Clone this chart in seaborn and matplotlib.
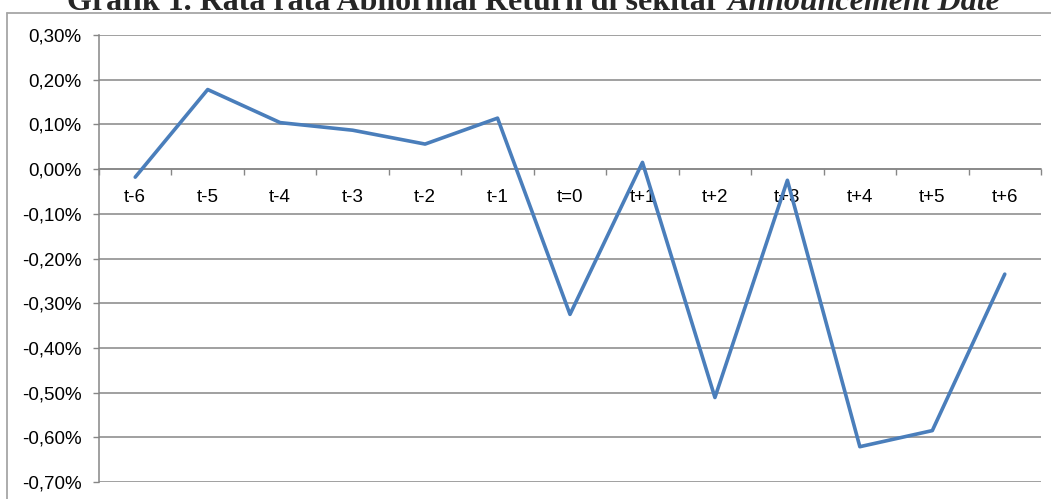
import numpy as np
import pandas as pd
import matplotlib
matplotlib.use("Agg")
import matplotlib.pyplot as plt
import seaborn as sns
from matplotlib.lines import Line2D
from matplotlib.ticker import FixedLocator, FuncFormatter

# Data (average abnormal return, in percent)
periode = ["t-6", "t-5", "t-4", "t-3", "t-2", "t-1", "t=0",
           "t+1", "t+2", "t+3", "t+4", "t+5", "t+6"]
abnormal_return = [-0.018, 0.178, 0.104, 0.087, 0.056, 0.114, -0.325,
                   0.015, -0.511, -0.025, -0.621, -0.585, -0.235]
y_ticks = [-0.7, -0.6, -0.5, -0.4, -0.3, -0.2, -0.1, 0.0, 0.1, 0.2, 0.3]

title_main = "Grafik 1. Rata rata Abnormal Return di sekitar "
title_italic = "Announcement Date"

df = pd.DataFrame({"periode": periode, "ar": abnormal_return})
df["pos"] = np.arange(len(df))

sns.set_style("white")
plt.rcParams["font.family"] = ["Liberation Sans", "DejaVu Sans"]

W, H = 1051, 499
fig = plt.figure(figsize=(W / 100, H / 100), dpi=100)
ax = fig.add_axes([99 / W, 1 - 482 / H, (1041 - 99) / W, (482 - 35) / H])

grey = "#868686"

sns.lineplot(data=df, x="pos", y="ar", color="#4a7ebb", linewidth=2.6,
             sort=False, ax=ax, zorder=3)

ax.set_xlim(-0.5, len(periode) - 0.5)
ax.set_ylim(y_ticks[0], y_ticks[-1])
ax.set_xlabel("")
ax.set_ylabel("")

# y axis
ax.yaxis.set_major_locator(FixedLocator(y_ticks))
ax.yaxis.set_major_formatter(FuncFormatter(lambda v, p: f"{v:.2f}%".replace(".", ",")))
ax.tick_params(axis="y", which="major", direction="out", length=4.5, width=1,
               color=grey, pad=8, labelsize=13.5, labelcolor="black", left=True)
ax.grid(axis="y", color=grey, linewidth=1.1)
ax.grid(axis="x", visible=False)

# x axis sits on the zero line, ticks at category boundaries
ax.spines["bottom"].set_position(("data", 0))
ax.xaxis.set_major_locator(FixedLocator(np.arange(-0.5, len(periode), 1.0)))
ax.xaxis.set_major_formatter(FuncFormatter(lambda v, p: ""))
ax.xaxis.set_minor_locator(FixedLocator(df["pos"].values))
ax.xaxis.set_minor_formatter(FuncFormatter(lambda v, p: periode[int(round(v))]))
ax.tick_params(axis="x", which="major", direction="out", length=4.5, width=1,
               color=grey, bottom=True)
ax.tick_params(axis="x", which="minor", length=0, pad=14, labelsize=13.5,
               labelcolor="black", bottom=True)

for side in ["top", "right"]:
    ax.spines[side].set_visible(False)
for side in ["left", "bottom"]:
    ax.spines[side].set_color(grey)
    ax.spines[side].set_linewidth(1.1)

# chart area border
fig.add_artist(Line2D([7 / W, 1.0], [1 - 12.7 / H, 1 - 12.7 / H],
                      color="#a6a6a6", linewidth=1.3))
fig.add_artist(Line2D([7 / W, 7 / W], [0.0, 1 - 12.7 / H],
                      color="#a6a6a6", linewidth=1.3))

# title, partly cut at the top (as in the source image)
t1 = fig.text(67 / W, 1 - 10 / H, title_main, family="Liberation Serif",
              fontweight="bold", fontsize=23, va="baseline", ha="left")
fig.canvas.draw()
bb = t1.get_window_extent()
fig.text(bb.x1 / W, 1 - 10 / H, title_italic, family="Liberation Serif",
         fontweight="bold", fontstyle="italic", fontsize=23,
         va="baseline", ha="left")

fig.savefig("out.png", dpi=100)
